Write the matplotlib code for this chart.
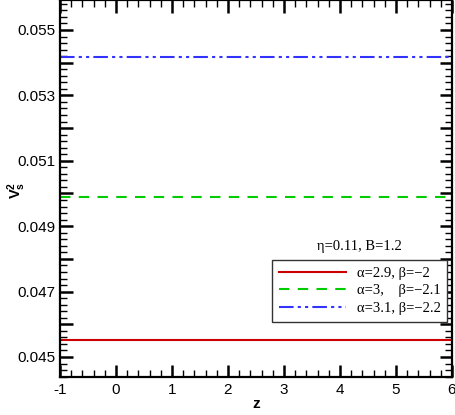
import matplotlib
matplotlib.use("Agg")
import matplotlib.pyplot as plt
import numpy as np
from matplotlib.ticker import MultipleLocator

plt.rcParams["mathtext.fontset"] = "custom"
plt.rcParams["mathtext.rm"] = "Liberation Sans:bold"
plt.rcParams["mathtext.bf"] = "Liberation Sans:bold"
plt.rcParams["mathtext.it"] = "Liberation Sans:bold"

z = [-1, 6]
series_labels = ["α=2.9, β=−2", "α=3,    β=−2.1", "α=3.1, β=−2.2"]
series_values = [0.04552, 0.04990, 0.05417]
colors = ["#cc0000", "#00cc00", "#3333ff"]
title_text = "η=0.11, B=1.2"

fig = plt.figure(figsize=(4.55, 4.15), dpi=100)
ax = fig.add_axes([60/455, 1 - 377/415, 392/455, 377/415])

styles = ["-", (0, (5, 4)), (0, (7, 2, 1.5, 2, 1.5, 2))]
for v, c, ls, lab in zip(series_values, colors, styles, series_labels):
    ax.plot(z, [v, v], color=c, linestyle=ls, linewidth=1.5, label=lab)

ax.set_xlim(-1, 6)
ax.set_ylim(0.044388, 0.055917)

ax.xaxis.set_major_locator(MultipleLocator(1))
ax.xaxis.set_minor_locator(MultipleLocator(0.2))
ax.yaxis.set_major_locator(MultipleLocator(0.001))
ax.yaxis.set_minor_locator(MultipleLocator(0.0002))

def yfmt(v, pos):
    k = int(round(v * 1000))
    return f"{v:.3f}" if k % 2 == 1 else ""
ax.yaxis.set_major_formatter(plt.FuncFormatter(yfmt))
ax.xaxis.set_major_formatter(plt.FuncFormatter(lambda v, p: f"{int(round(v))}"))

ax.tick_params(which="both", direction="in", top=True, right=True)
ax.tick_params(which="major", length=9, width=1.8, labelsize=11)
ax.tick_params(which="minor", length=5, width=1.0)
for lab in ax.get_xticklabels() + ax.get_yticklabels():
    lab.set_fontfamily("Liberation Sans")
ax.tick_params(axis="x", pad=4)
ax.tick_params(axis="y", pad=3)
for s in ax.spines.values():
    s.set_linewidth(1.6)

ax.set_xlabel("z", fontsize=11, fontweight="bold", fontfamily="Liberation Sans", labelpad=0)
ax.set_ylabel(r"$\mathbf{V}_\mathbf{s}^\mathbf{2}$", fontsize=10.5)
ax.yaxis.set_label_coords((28 - 60) / 392, (377 - 190) / 377)

leg = ax.legend(loc="upper left", bbox_to_anchor=(272/455, 1 - 260/415),
                bbox_transform=fig.transFigure, prop={"family": "Liberation Serif", "size": 10.5},
                frameon=True, fancybox=False, framealpha=1, edgecolor="#333333",
                handlelength=4.6, handletextpad=0.75, borderpad=0.45, labelspacing=0.3,
                borderaxespad=0)
leg.get_frame().set_linewidth(1.0)

fig.text(359/455, 1 - 246/415, title_text, ha="center", va="center",
         fontfamily="Liberation Serif", fontsize=10.5)

fig.savefig("out.png", dpi=100)
